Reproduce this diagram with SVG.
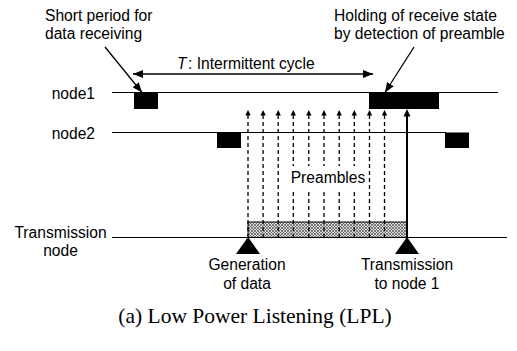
<svg xmlns="http://www.w3.org/2000/svg" width="517" height="351" viewBox="0 0 517 351">
<style>
  text { font-family: "Liberation Sans", Arial, sans-serif; font-size: 15.6px; fill: #000; }
  .cap { font-family: "Liberation Serif", "Times New Roman", serif; font-size: 21.5px; }
  .tl { stroke: #000; stroke-width: 1.2; fill: none; }
  .dash { stroke: #000; stroke-width: 1.3; stroke-dasharray: 4 3; fill: none; }
  .ptr { stroke: #000; stroke-width: 1.3; fill: none; marker-end: url(#ah); }
</style>
<defs>
  <marker id="ah" viewBox="0 0 10 8" refX="10" refY="4" markerWidth="10" markerHeight="8" markerUnits="userSpaceOnUse" orient="auto">
    <path d="M0,0 L10,4 L0,8 Z" fill="#000"/>
  </marker>
  <marker id="ahs" viewBox="0 0 10 8" refX="10" refY="4" markerWidth="10" markerHeight="8" markerUnits="userSpaceOnUse" orient="auto-start-reverse">
    <path d="M0,0 L10,4 L0,8 Z" fill="#000"/>
  </marker>
  <pattern id="hatch" width="3" height="3" patternUnits="userSpaceOnUse">
    <rect width="3" height="3" fill="#d8d8d8"/>
    <path d="M0,0 L3,3 M3,0 L0,3" stroke="#555" stroke-width="0.7"/>
  </pattern>
</defs>

<g id="labels">
  <text x="45" y="21">Short period for</text>
  <text x="45" y="39">data receiving</text>
  <text x="334" y="21">Holding of receive state</text>
  <text x="334" y="39">by detection of preamble</text>
  <text x="177" y="69"><tspan font-style="italic">T</tspan><tspan dx="1.5">: Intermittent cycle</tspan></text>
</g>

<g id="node1">
  <text x="95" y="98.5" text-anchor="end">node1</text>
  <line class="tl" x1="112" y1="92.5" x2="498" y2="92.5"/>
  <rect x="134" y="92.5" width="24" height="16.5" fill="#000"/>
  <rect x="369" y="92.5" width="70" height="16.5" fill="#000"/>
</g>

<g id="node2">
  <text x="95" y="138.5" text-anchor="end">node2</text>
  <line class="tl" x1="112" y1="132.5" x2="446" y2="132.5"/>
  <rect x="217" y="132.5" width="24" height="15.5" fill="#000"/>
  <rect x="445" y="132.5" width="24" height="15.5" fill="#000"/>
</g>

<g id="transmission-node">
  <text x="60.5" y="237.5" text-anchor="middle">Transmission</text>
  <text x="60.5" y="256" text-anchor="middle">node</text>
  <line class="tl" x1="112" y1="237.5" x2="507" y2="237.5"/>
  <rect x="248" y="222" width="159" height="15.5" fill="url(#hatch)" stroke="#000" stroke-width="1"/>
  <path d="M248,237 L236,254 L260,254 Z" fill="#000"/>
  <path d="M407,237 L395,254 L419,254 Z" fill="#000"/>
  <text x="247" y="269.5" text-anchor="middle">Generation</text>
  <text x="247" y="289" text-anchor="middle">of data</text>
  <text x="407" y="269.5" text-anchor="middle">Transmission</text>
  <text x="407" y="289" text-anchor="middle">to node 1</text>
</g>

<g id="connectors">
  <line class="ptr" x1="105" y1="47" x2="142" y2="92.5"/>
  <line class="ptr" x1="414" y1="47" x2="385" y2="92.5"/>
  <line x1="133" y1="74" x2="373" y2="74" stroke="#000" stroke-width="1.3" marker-start="url(#ahs)" marker-end="url(#ahs)"/>
  <line class="dash" x1="248" y1="115" x2="248" y2="237"/>
  <line class="dash" x1="263.1" y1="115" x2="263.1" y2="237"/>
  <line class="dash" x1="278.2" y1="115" x2="278.2" y2="237"/>
  <line class="dash" x1="293.3" y1="115" x2="293.3" y2="237"/>
  <line class="dash" x1="308.8" y1="115" x2="308.8" y2="237"/>
  <line class="dash" x1="324" y1="115" x2="324" y2="237"/>
  <line class="dash" x1="339.2" y1="115" x2="339.2" y2="237"/>
  <line class="dash" x1="354.3" y1="115" x2="354.3" y2="237"/>
  <line class="dash" x1="369.5" y1="115" x2="369.5" y2="237"/>
  <line class="dash" x1="384.5" y1="115" x2="384.5" y2="237"/>
  <g fill="#000">
    <path d="M248,110 l-2.7,5.5 h5.4 Z"/>
    <path d="M263.1,110 l-2.7,5.5 h5.4 Z"/>
    <path d="M278.2,110 l-2.7,5.5 h5.4 Z"/>
    <path d="M293.3,110 l-2.7,5.5 h5.4 Z"/>
    <path d="M308.8,110 l-2.7,5.5 h5.4 Z"/>
    <path d="M324,110 l-2.7,5.5 h5.4 Z"/>
    <path d="M339.2,110 l-2.7,5.5 h5.4 Z"/>
    <path d="M354.3,110 l-2.7,5.5 h5.4 Z"/>
    <path d="M369.5,110 l-2.7,5.5 h5.4 Z"/>
    <path d="M384.5,110 l-2.7,5.5 h5.4 Z"/>
  </g>
  <line x1="407" y1="237.5" x2="407" y2="116" stroke="#000" stroke-width="2"/>
  <path d="M407,109 l-3.5,7.5 h7 Z" fill="#000"/>
  <rect x="289" y="166" width="78" height="24" fill="#fff"/>
  <text x="328" y="183" text-anchor="middle">Preambles</text>
</g>

<text class="cap" x="255" y="322.5" text-anchor="middle">(a) Low Power Listening (LPL)</text>
</svg>
